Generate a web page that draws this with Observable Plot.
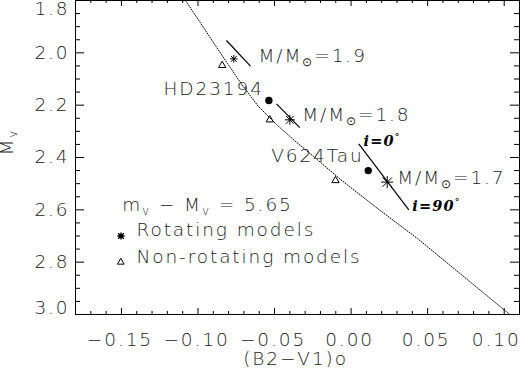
<!DOCTYPE html>
<html><head><meta charset="utf-8">
<script src="https://cdn.jsdelivr.net/npm/d3@7"></script>
<script src="https://cdn.jsdelivr.net/npm/@observablehq/plot@0.6"></script>
<style>
html,body{margin:0;padding:0;background:#fff;}
</style></head><body><div id="chart"></div>
<script>
// ---- data ----
const massLabels = ["M/M_{⊙}=1.9", "M/M_{⊙}=1.8", "M/M_{⊙}=1.7"];
const rotX = [-0.0766, -0.0400, 0.0236];
const rotY = [2.023, 2.256, 2.494];
const nonRotX = [-0.0842, -0.0531, -0.0102];
const nonRotY = [2.048, 2.256, 2.488];
const trackX1 = [-0.0814, -0.0487, 0.0050];
const trackY1 = [1.953, 2.195, 2.348];
const trackX2 = [-0.0657, -0.0335, 0.0377];
const trackY2 = [2.051, 2.286, 2.600];
const starNames = ["HD23194", "V624Tau"];
const starX = [-0.0537, 0.0112];
const starY = [2.182, 2.450];
const zamsX = [-0.1082, -0.0990, -0.0899, -0.0807, -0.0709, -0.0605, -0.0487, -0.0370, -0.0245, -0.0069, 0.0173, 0.0434, 0.0584, 0.1028];
const zamsY = [1.800, 1.880, 1.961, 2.041, 2.125, 2.205, 2.274, 2.335, 2.396, 2.484, 2.595, 2.710, 2.782, 2.996];
const incLabels = ["i=0^{°}", "i=90^{°}"];
const legendLabels = ["m_{v} − M_{v} = 5.65", "Rotating models", "Non-rotating models"];
const xTicks = [-0.15, -0.10, -0.05, 0.00, 0.05, 0.10];
const yTicks = [1.8, 2.0, 2.2, 2.4, 2.6, 2.8, 3.0];
const xTitle = "(B2−V1)o";
const yTitle = "M_{v}";

// ---- tables ----
const rot = rotX.map((x, i) => ({x, y: rotY[i], label: massLabels[i]}));
const nonRot = nonRotX.map((x, i) => ({x, y: nonRotY[i]}));
const tracks = trackX1.map((x1, i) => ({x1, y1: trackY1[i], x2: trackX2[i], y2: trackY2[i]}));
const stars = starX.map((x, i) => ({x, y: starY[i], name: starNames[i]}));
const zams = zamsX.map((x, i) => ({x, y: zamsY[i]}));
const xMinor = d3.range(-18, 12).map(v => v / 100).filter(v => Math.abs(Math.round(v * 100)) % 5 !== 0);
const yMinor = d3.range(36, 61).map(v => v / 20).filter(v => Math.round(v * 20) % 4 !== 0);

const asterisk = {
  draw(ctx, size) {
    const r = Math.sqrt(size / Math.PI), d = r * 0.78;
    ctx.moveTo(-r, 0); ctx.lineTo(r, 0);
    ctx.moveTo(0, -r); ctx.lineTo(0, r);
    ctx.moveTo(-d, -d); ctx.lineTo(d, d);
    ctx.moveTo(-d, d); ctx.lineTo(d, -d);
  }
};

const W = 526, H = 378, mL = 75, mR = 7, mT = 0, mB = 64;
const fh = H - mT - mB, fw = W - mL - mR;
const f2 = d3.format(".2f"), f1 = d3.format(".1f");

const rotDot = (i, r) => Plot.dot([rot[i]], {x: "x", y: "y", symbol: asterisk, r, stroke: "black", fill: "none", strokeWidth: 1});
const massText = (i, dx, dy) => Plot.text([rot[i]], {x: "x", y: "y", text: "label", textAnchor: "start", lineAnchor: "bottom", dx, dy});
const starText = (i, dx, dy) => Plot.text([stars[i]], {x: "x", y: "y", text: "name", textAnchor: "end", lineAnchor: "bottom", dx, dy});
const incText = (i, px, py, dx, dy) => Plot.text([{x: tracks[2][px], y: tracks[2][py], t: incLabels[i]}], {x: "x", y: "y", text: "t", textAnchor: "start", lineAnchor: "bottom", dx, dy, fontFamily: "DejaVu Serif", fontStyle: "italic", fontWeight: "bold", fontSize: 14.5, fill: "black"});

const chart = Plot.plot({
  width: W, height: H,
  marginLeft: mL, marginRight: mR, marginTop: mT, marginBottom: mB,
  style: {fontFamily: "DejaVu Sans", fontSize: "18.5px", fontWeight: 200, background: "#fff", color: "#222"},
  x: {domain: [-0.18, 0.11]},
  y: {domain: [1.8, 3.0], reverse: true},
  marks: [
    Plot.line(zams, {x: "x", y: "y", stroke: "black", strokeWidth: 1, strokeDasharray: "1,1.6", clip: true}),
    Plot.link(tracks, {x1: "x1", y1: "y1", x2: "x2", y2: "y2", stroke: "black", strokeWidth: 1.2}),
    rotDot(0, 3.8), rotDot(1, 5), rotDot(2, 6),
    Plot.dot(nonRot, {x: "x", y: "y", symbol: "triangle", r: 2.7, stroke: "black", fill: "none", strokeWidth: 1}),
    Plot.dot(stars, {x: "x", y: "y", r: 3.7, fill: "black"}),
    massText(0, 24.7, 3.4), massText(1, 12.4, 0.7), massText(2, 10, 1.6),
    starText(0, -5, -5), starText(1, -4.5, -8.3),
    incText(0, "x1", "y1", 4.7, 1.7), incText(1, "x2", "y2", 3.4, 0.7),
    // legend
    Plot.text([legendLabels[0]], {frameAnchor: "top-left", text: d => d, textAnchor: "start", lineAnchor: "bottom", dx: 46.7, dy: 210}),
    Plot.dot([0], {frameAnchor: "top-left", dx: 45.5, dy: 235.5, symbol: asterisk, r: 3.6, stroke: "black", fill: "none", strokeWidth: 1.4}),
    Plot.text([legendLabels[1]], {frameAnchor: "top-left", text: d => d, textAnchor: "start", lineAnchor: "bottom", dx: 61, dy: 235.5}),
    Plot.dot([0], {frameAnchor: "top-left", dx: 45.3, dy: 261.7, symbol: "triangle", r: 2.5, stroke: "black", fill: "none", strokeWidth: 1}),
    Plot.text([legendLabels[2]], {frameAnchor: "top-left", text: d => d, textAnchor: "start", lineAnchor: "bottom", dx: 61, dy: 262}),
    // ticks (inward, all four sides)
    Plot.tickX(xTicks, {x: d => d, insetTop: fh - 6, stroke: "black"}),
    Plot.tickX(xTicks, {x: d => d, insetBottom: fh - 6, stroke: "black"}),
    Plot.tickX(xMinor, {x: d => d, insetTop: fh - 3, stroke: "black"}),
    Plot.tickX(xMinor, {x: d => d, insetBottom: fh - 3, stroke: "black"}),
    Plot.tickY(yTicks, {y: d => d, insetRight: fw - 9, stroke: "black"}),
    Plot.tickY(yTicks, {y: d => d, insetLeft: fw - 9, stroke: "black"}),
    Plot.tickY(yMinor, {y: d => d, insetRight: fw - 5, stroke: "black"}),
    Plot.tickY(yMinor, {y: d => d, insetLeft: fw - 5, stroke: "black"}),
    // tick labels
    Plot.axisX({ticks: xTicks.slice(0, 5), tickSize: 0, tickPadding: 18, tickFormat: f2, label: null, dx: -1.5}),
    Plot.axisX({ticks: xTicks.slice(5), tickSize: 0, tickPadding: 18, tickFormat: f2, label: null, dx: -8}),
    Plot.axisY({ticks: yTicks.slice(1, 6), tickSize: 0, tickPadding: 6, tickFormat: f1, label: null}),
    Plot.axisY({ticks: yTicks.slice(0, 1), tickSize: 0, tickPadding: 6, tickFormat: f1, label: null, dy: 9}),
    Plot.axisY({ticks: yTicks.slice(6), tickSize: 0, tickPadding: 6, tickFormat: f1, label: null, dy: -6}),
    // titles
    Plot.text([xTitle], {frameAnchor: "bottom", text: d => d, dx: -2, dy: 50}),
    Plot.text([yTitle], {frameAnchor: "left", text: d => d, rotate: -90, dx: -68, dy: -2}),
    Plot.frame({stroke: "black", strokeWidth: 1})
  ]
});

// sub/superscripts and letter spacing
chart.querySelectorAll("text").forEach(t => {
  const italic = t.closest("[font-style='italic']") || t.getAttribute("font-style") === "italic";
  t.style.letterSpacing = italic ? "1.2px" : "1.9px";
  const s = t.textContent;
  if (!/[_^]\{/.test(s)) return;
  t.textContent = "";
  const re = /([_^])\{([^}]*)\}/g;
  let last = 0, shift = 0, m;
  const add = (txt, dy, small) => {
    const sp = document.createElementNS("http://www.w3.org/2000/svg", "tspan");
    if (dy) sp.setAttribute("dy", dy);
    if (small) sp.setAttribute("font-size", "65%");
    sp.textContent = txt;
    t.appendChild(sp);
  };
  while ((m = re.exec(s))) {
    if (m.index > last) { add(s.slice(last, m.index), -shift, false); shift = 0; }
    const sh = m[1] === "_" ? 4 : -6;
    add(m[2], sh - shift, true); shift = sh;
    last = re.lastIndex;
  }
  if (last < s.length) add(s.slice(last), -shift, false);
});

document.getElementById("chart").appendChild(chart);
</script>
</body></html>
